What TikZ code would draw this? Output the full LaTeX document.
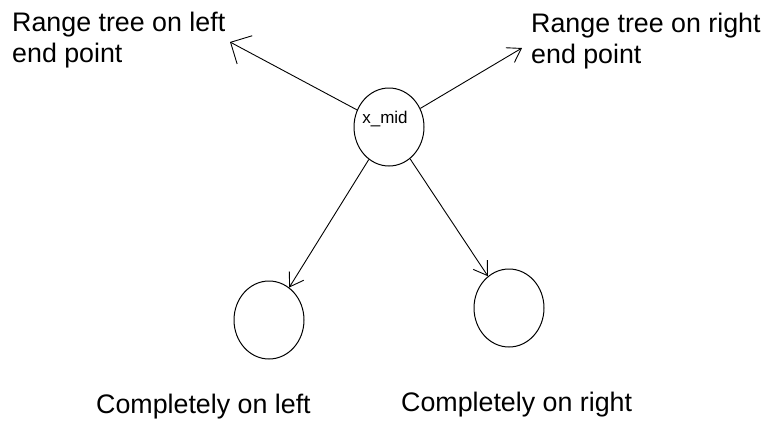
\documentclass[tikz,border=0pt]{standalone}
\usepackage{fontspec}
\setmainfont{Liberation Sans}
\usetikzlibrary{shapes.geometric,arrows.meta}
\tikzset{
  circ/.style={draw, ellipse, inner sep=0pt, minimum width=70pt, minimum height=78pt, line width=1pt},
  lbl/.style={inner sep=0pt, font=\fontsize{26.8}{31}\selectfont, align=left},
  midlbl/.style={inner sep=0pt, font=\fontsize{17}{20}\selectfont},
  bigarrow/.style={line width=0.9pt, -{Straight Barb[length=16pt,width=32pt,line width=0.9pt]}},
  smallarrow/.style={line width=0.9pt, -{Straight Barb[length=13pt,width=17pt,line width=0.9pt]}}
}
\begin{document}
\begin{tikzpicture}[x=1pt,y=-1pt]
\useasboundingbox (0,0) rectangle (768,421);
\node[circ, label={[midlbl, xshift=-4pt, yshift=8pt]center:x\_mid}] (mid) at (389,127) {};
\node[circ] (lc) at (269,320) {};
\node[circ] (rc) at (509,308) {};
\coordinate (tl) at (230,42);
\coordinate (tr) at (522,48);
\node[lbl, anchor=north west] (ltext) at (12,12) {Range tree on left\\end point};
\node[lbl, anchor=north west] (rtext) at (531,13) {Range tree on right\\end point};
\node[lbl, anchor=base west] (lbot) at (96,413) {Completely on left};
\node[lbl, anchor=base west] (rbot) at (401,411) {Completely on right};
\draw[bigarrow] (mid) -- (tl);
\draw[smallarrow] (mid) -- (tr);
\draw[smallarrow] (mid) -- (lc);
\draw[smallarrow] (mid) -- (rc);
\end{tikzpicture}
\end{document}
